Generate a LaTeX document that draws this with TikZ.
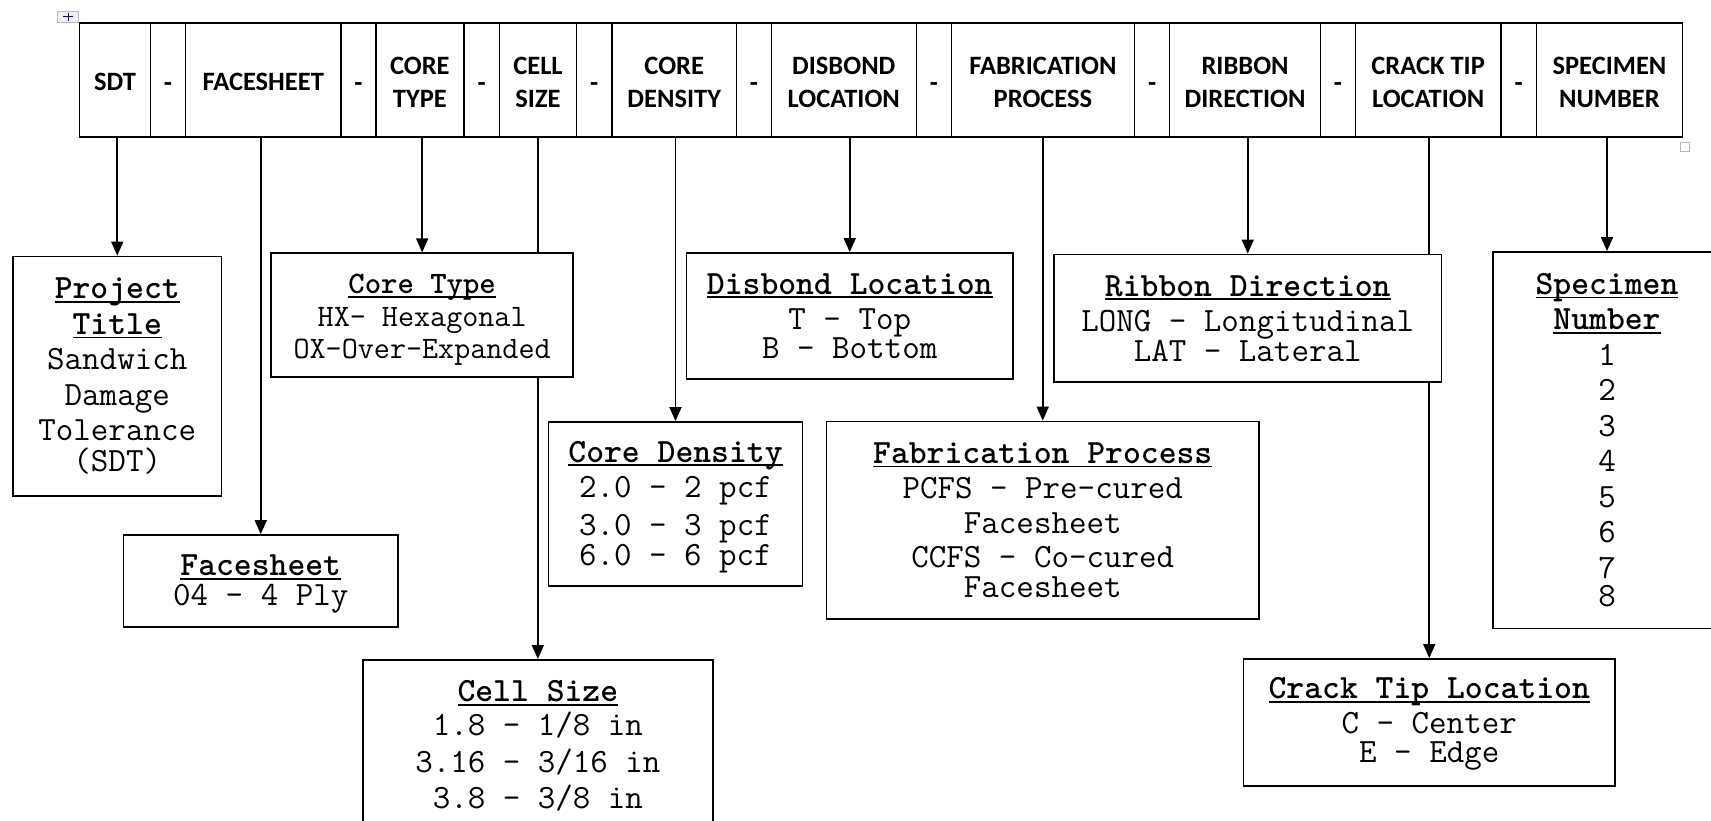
\documentclass[tikz,border=0pt]{standalone}
\usepackage{fontspec}
\usetikzlibrary{arrows.meta}
\newfontfamily\hfont{Carlito}
\pgfdeclarelayer{bg}
\pgfsetlayers{bg,main}
\newsavebox{\ttlbox}
\newcommand{\ttl}[1]{\sbox{\ttlbox}{\bfseries #1}\rlap{\usebox{\ttlbox}}\rule[-4pt]{\wd\ttlbox}{1.6pt}}
\newcommand{\mfs}[2]{\ttfamily\fontsize{#1}{#2}\selectfont}
\newcommand{\hs}{\rule{0pt}{21.5pt}}
\newcommand{\tops}[1]{\rule{0pt}{#1}}

\begin{document}
\begin{tikzpicture}[x=1pt,y=-1pt,
  hcell/.style={draw=black, line width=1.6pt, fill=white, minimum height=114pt,
    inner sep=0pt, align=center, font=\hfont\bfseries\fontsize{26.5}{33}\selectfont},
  infobox/.style={draw=black, line width=1.8pt, fill=white, inner sep=0pt,
    align=center, font=\mfs{34}{35.5}},
  conn/.style={draw=black, line width=1.8pt, -{Triangle[length=14pt,width=12pt]}}
]
\useasboundingbox (0,0) rectangle (1711,821);
\clip (0,0) rectangle (1711,821);

% header row
\node[hcell, minimum width=71pt]    (hSDT) at (115,80.3)     {\hs SDT};
\node[hcell, minimum width=35pt]    (d1)   at (168,80.3)     {\hs -};
\node[hcell, minimum width=155.5pt] (hFS)  at (263.25,80.3)  {\hs FACESHEET};
\node[hcell, minimum width=35pt]    (d2)   at (358.5,80.3)   {\hs -};
\node[hcell, minimum width=87.7pt]  (hCT)  at (419.85,80.3)  {\hs CORE\\TYPE};
\node[hcell, minimum width=35.8pt]  (d3)   at (481.6,80.3)   {\hs -};
\node[hcell, minimum width=77pt]    (hCS)  at (538,80.3)     {\hs CELL\\SIZE};
\node[hcell, minimum width=35.5pt]  (d4)   at (594.25,80.3)  {\hs -};
\node[hcell, minimum width=124.5pt] (hCD)  at (674.25,80.3)  {\hs CORE\\DENSITY};
\node[hcell, minimum width=34.8pt]  (d5)   at (753.9,80.3)   {\hs -};
\node[hcell, minimum width=145pt]   (hDL)  at (843.8,80.3)   {\hs DISBOND\\LOCATION};
\node[hcell, minimum width=35pt]    (d6)   at (933.8,80.3)   {\hs -};
\node[hcell, minimum width=183.3pt] (hFP)  at (1042.95,80.3) {\hs FABRICATION\\PROCESS};
\node[hcell, minimum width=35pt]    (d7)   at (1152.1,80.3)  {\hs -};
\node[hcell, minimum width=150.9pt] (hRD)  at (1245.05,80.3) {\hs RIBBON\\DIRECTION};
\node[hcell, minimum width=35pt]    (d8)   at (1338,80.3)    {\hs -};
\node[hcell, minimum width=145.3pt] (hCTL) at (1428.15,80.3) {\hs CRACK TIP\\LOCATION};
\node[hcell, minimum width=35.7pt]  (d9)   at (1518.65,80.3) {\hs -};
\node[hcell, minimum width=145.9pt] (hSN)  at (1609.45,80.3) {\hs SPECIMEN\\NUMBER};

% Word table handles
\node[draw=gray!55, fill=gray!12, line width=0.8pt, minimum width=21pt, minimum height=11pt, inner sep=0pt] (handle) at (68,17) {};
\draw[blue!65!black, line width=1pt] ([xshift=-5pt]handle.center) -- ([xshift=5pt]handle.center);
\draw[blue!65!black, line width=1pt] ([yshift=4pt]handle.center) -- ([yshift=-4pt]handle.center);
\node[draw=gray!55, line width=1pt, minimum size=9pt, inner sep=0pt] (resize) at (1685,147) {};

% description boxes
\node[infobox, minimum width=208.5pt, minimum height=239.5pt] (pt) at (117.25,376.25)
  {\ttl{Project}\\\ttl{Title}\\Sandwich\\Damage\\Tolerance\\[-5pt](SDT)};
\node[infobox, minimum width=274.5pt, minimum height=92pt, font=\mfs{34}{30}] (fs) at (260.75,581)
  {\tops{27.4pt}\ttl{Facesheet}\\04 - 4 Ply};
\node[infobox, minimum width=302.3pt, minimum height=123.7pt, font=\mfs{31.2}{32}] (ct) at (422.15,315.15)
  {\tops{29.4pt}\ttl{Core Type}\\[1pt]HX- Hexagonal\\OX-Over-Expanded};
\node[infobox, minimum width=254pt, minimum height=163.7pt] (cd) at (675.5,503.85)
  {\tops{27.4pt}\ttl{Core Density}\\2.0 - 2 pcf\\[2pt]3.0 - 3 pcf\\[-5pt]6.0 - 6 pcf};
\node[infobox, minimum width=326.5pt, minimum height=126pt] (dl) at (849.75,316)
  {\ttl{Disbond Location}\\T - Top\\[-6.5pt]B - Bottom};
\node[infobox, minimum width=432.5pt, minimum height=197.5pt] (fp) at (1042.75,520.25)
  {\ttl{Fabrication Process}\\PCFS - Pre-cured\\[-1pt]Facesheet\\[-1pt]CCFS - Co-cured\\[-5.5pt]Facesheet};
\node[infobox, minimum width=387.5pt, minimum height=127.5pt] (rd) at (1247.75,318.25)
  {\ttl{Ribbon Direction}\\LONG - Longitudinal\\[-6pt]LAT - Lateral};
\node[infobox, minimum width=228.6pt, minimum height=376.5pt] (sn) at (1607,440.25)
  {\ttl{Specimen}\\\ttl{Number}\\1\\2\\3\\4\\5\\6\\7\\[-7pt]8};
\node[infobox, anchor=north, minimum width=349.7pt, minimum height=172pt] (cs) at (537.85,659)
  {\ttl{Cell Size}\\[-1.5pt]1.8 - 1/8 in\\[1.5pt]3.16 - 3/16 in\\3.8 - 3/8 in};
\node[infobox, minimum width=371.5pt, minimum height=127pt] (ctl) at (1429.25,722.5)
  {\tops{23.8pt}\ttl{Crack Tip Location}\\[-1pt]C - Center\\[-6pt]E - Edge};

% connectors
\begin{pgfonlayer}{bg}
\draw[conn] (pt.north  |- hSDT.south) -- (pt.north);
\draw[conn] (fs.north  |- hFS.south)  -- (fs.north);
\draw[conn] (ct.north  |- hCT.south)  -- (ct.north);
\draw[conn] (cs.north  |- hCS.south)  -- (cs.north);
\draw[conn] (cd.north  |- hCD.south)  -- (cd.north);
\draw[conn] (dl.north  |- hDL.south)  -- (dl.north);
\draw[conn] (fp.north  |- hFP.south)  -- (fp.north);
\draw[conn] (rd.north  |- hRD.south)  -- (rd.north);
\draw[conn] (ctl.north |- hCTL.south) -- (ctl.north);
\draw[conn] (sn.north  |- hSN.south)  -- (sn.north);
\end{pgfonlayer}
\end{tikzpicture}
\end{document}
